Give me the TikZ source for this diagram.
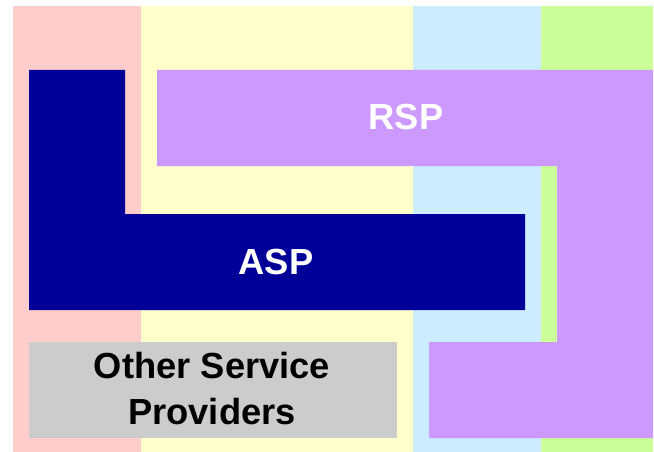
\documentclass[tikz,border=0pt]{standalone}
\usepackage{fontspec}
\setmainfont{Liberation Sans}
\definecolor{cpink}{HTML}{FFCCCC}
\definecolor{cyellow}{HTML}{FFFFCC}
\definecolor{cblue}{HTML}{CCECFF}
\definecolor{cgreen}{HTML}{CCFF99}
\definecolor{cpurple}{HTML}{CC99FF}
\definecolor{cdark}{HTML}{000099}
\definecolor{cgray}{HTML}{CCCCCC}
\tikzset{
  lbl/.style={anchor=base, inner sep=0pt, font=\fontsize{36.3}{46}\selectfont\bfseries},
}
\begin{document}
\begin{tikzpicture}[x=1pt,y=-1pt]
\useasboundingbox (0,0) rectangle (654,452);
% background columns
\fill[cpink]   (13,6) rectangle (141,452);
\fill[cyellow] (141,6) rectangle (413,452);
\fill[cblue]   (413,6) rectangle (541,452);
\fill[cgreen]  (541,6) rectangle (653,452);
% ASP L-shape
\fill[cdark] (29,70) -- (125,70) -- (125,214) -- (525,214) -- (525,310) -- (29,310) -- cycle;
% RSP shape
\fill[cpurple] (157,70) -- (653,70) -- (653,438) -- (429,438) -- (429,342) -- (557,342) -- (557,166) -- (157,166) -- cycle;
% Other service providers
\fill[cgray] (29,342) rectangle (397,438);
% labels
\node[lbl, text=white] (rsp) at (406,129) {RSP};
\node[lbl, text=white] (asp) at (276,274) {ASP};
\node[lbl, text=black] (osp1) at (212,378) {Other Service};
\node[lbl, text=black] (osp2) at (212,424) {Providers};
\end{tikzpicture}
\end{document}
